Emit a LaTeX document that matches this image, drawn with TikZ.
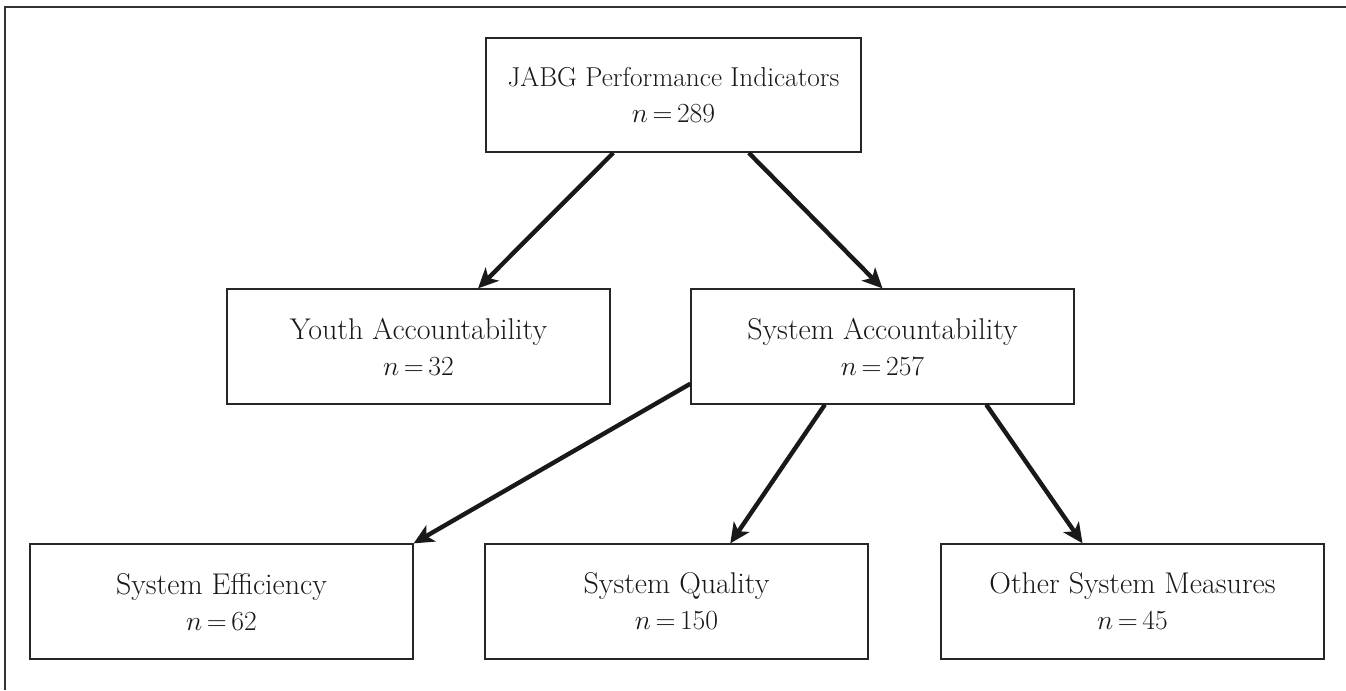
\documentclass[tikz,border=0pt]{standalone}
\usetikzlibrary{arrows.meta,calc}
\begin{document}
\begin{tikzpicture}[x=0.75pt,y=-0.75pt,>={Stealth[length=15pt,width=14pt,inset=4pt]},
  box/.style={draw=black!85,line width=1.2pt,minimum width=287pt,minimum height=86pt,inner sep=0pt,align=center,font=\fontsize{22.5}{27}\selectfont,text=black!90},
  link/.style={->,line width=3.3pt,black!90}]
\useasboundingbox(0,0)rectangle(1346,690);
\draw[line width=1.5pt,black!80](5,690)--(5,7)--(1346,7);
% levels
\node[box,minimum width=281pt,minimum height=85.5pt,font=\fontsize{20.5}{27}\selectfont](top)at(673.5,95){JABG Performance Indicators\\$n\,{=}\,289$};
\node[box](youth)at(418.5,346.5){Youth Accountability\\$n\,{=}\,32$};
\node[box](sys)at(882.5,346.5){System Accountability\\$n\,{=}\,257$};
\node[box](eff)at(221.5,601.5){System Efficiency\\$n\,{=}\,62$};
\node[box](qual)at(676.5,601.5){System Quality\\$n\,{=}\,150$};
\node[box](other)at(1132.5,601.5){Other System Measures\\$n\,{=}\,45$};
% arrows
\draw[link]($(top.south west)!.34!(top.south east)$)--($(youth.north west)!.655!(youth.north east)$);
\draw[link]($(top.south west)!.70!(top.south east)$)--(sys.north);
\draw[link]($(sys.north west)!.82!(sys.south west)$)--(eff.north east);
\draw[link]($(sys.south west)!.35!(sys.south east)$)--($(qual.north west)!.64!(qual.north east)$);
\draw[link]($(sys.south west)!.77!(sys.south east)$)--($(other.north west)!.37!(other.north east)$);
\end{tikzpicture}
\end{document}
